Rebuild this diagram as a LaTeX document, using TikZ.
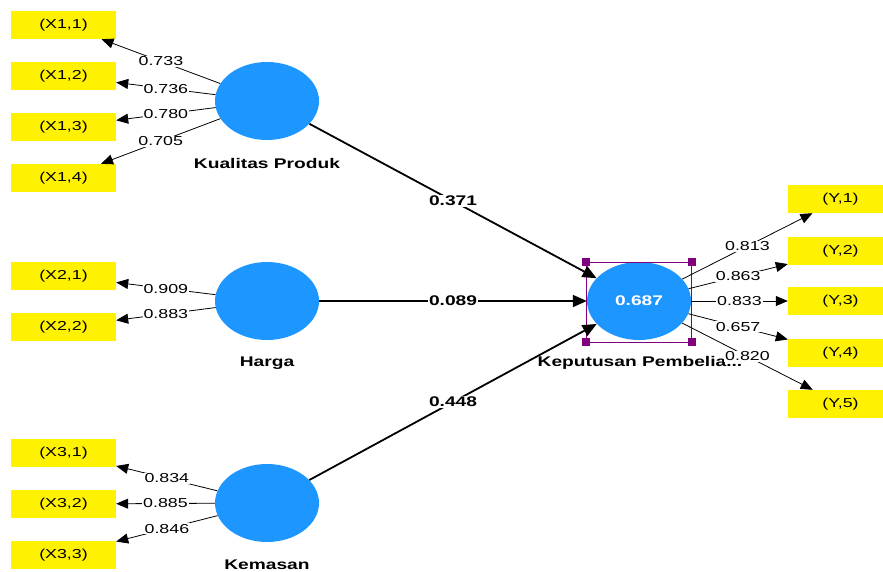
\documentclass[tikz,border=0pt]{standalone}
\usepackage{fontspec}
\setmainfont[FakeStretch=1.37]{Liberation Sans}
\usetikzlibrary{arrows.meta,shapes.geometric}
\definecolor{plsblue}{RGB}{30,150,255}
\definecolor{selpurple}{RGB}{128,0,128}

\begin{document}
\begin{tikzpicture}[x=1pt,y=-1pt,>={Triangle[length=12pt,width=10pt]},
 ind/.style={fill=yellow,minimum width=105pt,minimum height=28pt,inner sep=0pt,font=\fontsize{13}{15}\selectfont},
 lv/.style={ellipse,fill=plsblue,minimum width=104pt,minimum height=78pt,inner sep=0pt,text=white,font=\fontsize{14}{16}\selectfont\bfseries},
 lvname/.style={font=\fontsize{14}{16}\selectfont\bfseries},
 load/.style={fill=white,inner sep=1pt,font=\fontsize{13}{15}\selectfont},
 coef/.style={fill=white,inner sep=1pt,font=\fontsize{14}{16}\selectfont\bfseries}]
\useasboundingbox (0,0) rectangle (883,572);
\clip (0,0) rectangle (883,572);
\fill[white] (0,0) rectangle (883,572);
% indicators
\foreach \i/\j/\y in {1/1/25,1/2/76,1/3/127,1/4/178,2/1/276,2/2/327,3/1/453,3/2/504,3/3/555}
 \node[ind] (x\i\j) at (63.5,\y) {(X\i,\j)};
\foreach \j/\y in {1/199,2/251,3/301,4/353,5/404}
 \node[ind] (y\j) at (840.5,\y) {(Y,\j)};
% constructs
\node[lv] (kp) at (267,101) {};
\node[lv] (hg) at (267,301) {};
\node[lv] (km) at (267,503) {};
\node[lv] (kb) at (639,301) {0.687};
\node[lvname] (kpname) at (267,163) {Kualitas Produk};
\node[lvname] (hgname) at (267,363) {Harga};
\node[lvname] (kmname) at (267,565) {Kemasan};
\node[lvname] (kbname) at (640,363) {Keputusan Pembelia...};
% selection frame
\node[draw=selpurple,minimum width=105pt,minimum height=80pt,inner sep=0pt] (sel) at (639,302) {};
\foreach \c in {north west,north east,south west,south east}
 \fill[selpurple] (sel.\c) ++(-4,-4) rectangle ++(8,8);
% outer loadings
\foreach \j/\v in {1/0.733,2/0.736,3/0.780,4/0.705}
 \draw[->,line width=0.8pt] (kp) -- node[load] {\v} (x1\j);
\foreach \j/\v in {1/0.909,2/0.883}
 \draw[->,line width=0.8pt] (hg) -- node[load] {\v} (x2\j);
\foreach \j/\v in {1/0.834,2/0.885,3/0.846}
 \draw[->,line width=0.8pt] (km) -- node[load] {\v} (x3\j);
\foreach \j/\v in {1/0.813,2/0.863,3/0.833,4/0.657,5/0.820}
 \draw[->,line width=0.8pt] (kb) -- node[load] {\v} (y\j);
% path coefficients
\draw[-{Triangle[length=14pt,width=12pt]},line width=1.8pt] (kp) -- node[coef] {0.371} (kb);
\draw[-{Triangle[length=14pt,width=12pt]},line width=1.8pt] (hg) -- node[coef] {0.089} (kb);
\draw[-{Triangle[length=14pt,width=12pt]},line width=1.8pt] (km) -- node[coef] {0.448} (kb);
\end{tikzpicture}
\end{document}
